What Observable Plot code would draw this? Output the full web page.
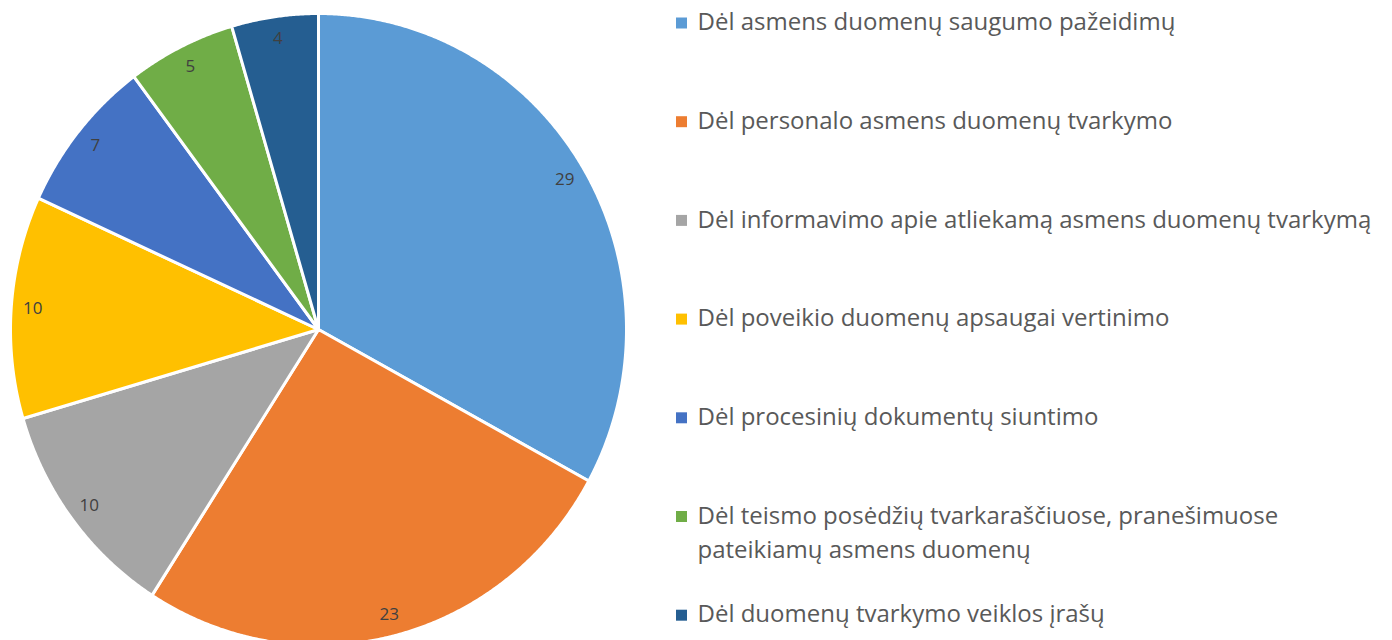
<!DOCTYPE html>
<html>
<head>
<meta charset="utf-8">
<script src="https://cdn.jsdelivr.net/npm/d3@7"></script>
<script src="https://cdn.jsdelivr.net/npm/@observablehq/plot@0.6"></script>
<style>
  html, body { margin: 0; padding: 0; background: #fff; }
  #chart { width: 1392px; height: 640px; overflow: hidden; }
</style>
</head>
<body>
<div id="chart"></div>
<script>
const categories = [
  "Dėl asmens duomenų saugumo pažeidimų",
  "Dėl personalo asmens duomenų tvarkymo",
  "Dėl informavimo apie atliekamą asmens duomenų tvarkymą",
  "Dėl poveikio duomenų apsaugai vertinimo",
  "Dėl procesinių dokumentų siuntimo",
  "Dėl teismo posėdžių tvarkaraščiuose, pranešimuose\npateikiamų asmens duomenų",
  "Dėl duomenų tvarkymo veiklos įrašų"
];
const values = [29, 23, 10, 10, 7, 5, 4];
const colors = ["#5B9BD5", "#ED7D31", "#A5A5A5", "#FFC000", "#4472C4", "#70AD47", "#255E91"];

// Layout (pixels)
const W = 1392, H = 640;
const cx = 318, cy = 329, Rx = 308, Ry = 316;
const toX = px => (px - cx) / Rx;
const toY = py => (cy - py) / Ry;

const data = categories.map((c, i) => ({cat: c, value: values[i]}));
const arcs = d3.pie().sort(null).value(d => d.value)(data);

// Slice polygons (computed from pie angles)
const polys = [];
arcs.forEach(a => {
  const n = Math.max(4, Math.ceil((a.endAngle - a.startAngle) / 0.005));
  polys.push({cat: a.data.cat, x: 0, y: 0});
  for (let k = 0; k <= n; k++) {
    const t = a.startAngle + (a.endAngle - a.startAngle) * k / n;
    polys.push({cat: a.data.cat, x: Math.sin(t), y: Math.cos(t)});
  }
  polys.push({cat: a.data.cat, x: 0, y: 0});
});

// Value labels
const labelR = 0.93;
const labels = arcs.map(a => {
  const m = (a.startAngle + a.endAngle) / 2;
  return {x: labelR * Math.sin(m), y: labelR * Math.cos(m), text: String(a.data.value)};
});

// Legend
const legX = 681, legTextX = 697, legY0 = 22, legStep = 98.7, legLine = 34;
const legSwatches = categories.map((c, i) => ({cat: c, x: toX(legX), y: toY(legY0 + i * legStep + 0.5)}));
const legLines = [];
categories.forEach((c, i) => {
  c.split("\n").forEach((line, j) => {
    legLines.push({x: toX(legTextX), y: toY(legY0 + i * legStep + j * legLine), text: line});
  });
});

const chart = Plot.plot({
  width: W,
  height: H,
  margin: 0,
  style: {background: "#fff"},
  x: {domain: [-1, 1], range: [cx - Rx, cx + Rx], axis: null},
  y: {domain: [-1, 1], range: [cy + Ry, cy - Ry], axis: null},
  color: {domain: categories, range: colors},
  marks: [
    Plot.line(polys, {x: "x", y: "y", z: "cat", fill: "cat", stroke: "#fff", strokeWidth: 3, strokeLinejoin: "round", curve: "linear"}),
    Plot.text(labels, {x: "x", y: "y", text: "text", fill: "#404040", fontSize: 17, fontFamily: "Open Sans"}),
    Plot.dot(legSwatches, {x: "x", y: "y", fill: "cat", symbol: "square", r: 6.2, stroke: null}),
    Plot.text(legLines, {x: "x", y: "y", text: "text", textAnchor: "start", fill: "#595959", fontSize: 24, fontFamily: "Open Sans"})
  ]
});
document.getElementById("chart").appendChild(chart);
</script>
</body>
</html>
